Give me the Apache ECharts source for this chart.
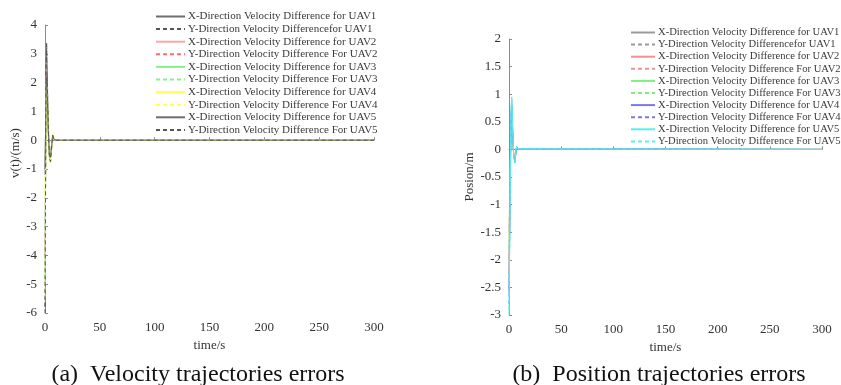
<!DOCTYPE html>
<html>
<head>
<meta charset="utf-8">
<script src="https://cdn.jsdelivr.net/npm/echarts@6/dist/echarts.min.js"></script>
<style>
  html, body { margin: 0; padding: 0; background: #fff; }
  #chart { width: 841px; height: 385px; }
</style>
</head>
<body>
<div id="chart"></div>
<script>
// time axis samples (s)
var velTime = [0, 1, 1.5, 2, 3, 4, 5, 6, 7, 8, 10, 300]
var posTime = [0, 1, 2, 2.6, 3.5, 4.5, 5.8, 6.5, 7.3, 8.5, 10, 300]

// velocity errors (m/s)
var vx1 = [-1.2, 1.6, 2.1, 1.5, 0.3, -0.5, -0.6, -0.2, 0.12, 0.04, 0, 0]
var vy1 = [-6.0, 2.6, 3.4, 2.4, 0.6, -0.6, -0.8, -0.3, 0.18, 0.05, 0, 0]
var vx2 = [-0.8, 1.2, 1.6, 1.1, 0.2, -0.4, -0.5, -0.15, 0.1, 0.03, 0, 0]
var vy2 = [-4.0, 1.8, 2.4, 1.7, 0.4, -0.5, -0.6, -0.2, 0.14, 0.04, 0, 0]
var vx3 = [-5.0, 1.4, 2.0, 1.4, 0.3, -0.45, -0.55, -0.18, 0.12, 0.03, 0, 0]
var vy3 = [-3.0, 1.5, 2.2, 1.6, 0.35, -0.5, -0.65, -0.22, 0.15, 0.04, 0, 0]
var vx4 = [-2.0, 1.3, 1.9, 1.4, 0.3, -0.5, -0.7, -0.25, 0.16, 0.04, 0, 0]
var vy4 = [-5.5, 2.1, 2.0, 1.8, 0.5, -0.6, -0.8, -0.3, 0.2, 0.05, 0, 0]
var vx5 = [-1.0, 1.7, 2.2, 1.6, 0.35, -0.5, -0.6, -0.2, 0.15, 0.04, 0, 0]
var vy5 = [-5.8, 2.5, 3.2, 2.2, 0.5, -0.55, -0.75, -0.28, 0.18, 0.05, 0, 0]

// position errors (m)
var px1 = [-2.0, -0.6, 0.5, 0.7, 0.3, -0.1, -0.2, -0.05, 0.04, 0.01, 0, 0]
var py1 = [-2.5, -0.8, 0.6, 0.8, 0.35, -0.12, -0.22, -0.06, 0.05, 0.01, 0, 0]
var px2 = [-1.5, -0.4, 0.4, 0.6, 0.25, -0.08, -0.18, -0.04, 0.04, 0.01, 0, 0]
var py2 = [-2.2, -0.7, 0.5, 0.75, 0.3, -0.1, -0.2, -0.05, 0.05, 0.01, 0, 0]
var px3 = [-1.8, -0.5, 0.45, 0.65, 0.28, -0.1, -0.19, -0.05, 0.04, 0.01, 0, 0]
var py3 = [-2.4, -0.7, 0.55, 0.8, 0.32, -0.12, -0.21, -0.06, 0.05, 0.01, 0, 0]
var px4 = [-2.6, -0.9, 0.6, 0.85, 0.35, -0.12, -0.23, -0.06, 0.05, 0.01, 0, 0]
var py4 = [-2.8, -1.0, 0.7, 0.9, 0.38, -0.13, -0.24, -0.06, 0.05, 0.01, 0, 0]
var px5 = [-3.0, -1.1, 0.75, 0.95, 0.4, -0.14, -0.25, -0.05, 0.06, 0.01, 0, 0]
var py5 = [-2.9, -1.0, 0.7, 0.92, 0.38, -0.13, -0.24, -0.05, 0.05, 0.01, 0, 0]

var velNames = [
  'X-Direction Velocity Difference for UAV1',
  'Y-Direction Velocity Differencefor UAV1',
  'X-Direction Velocity Difference for UAV2',
  'Y-Direction Velocity Difference For UAV2',
  'X-Direction Velocity Difference for UAV3',
  'Y-Direction Velocity Difference For UAV3',
  'X-Direction Velocity Difference for UAV4',
  'Y-Direction Velocity Difference For UAV4',
  'X-Direction Velocity Difference for UAV5',
  'Y-Direction Velocity Difference For UAV5'
]
var velTicks = [-6, -5, -4, -3, -2, -1, 0, 1, 2, 3, 4]
var posTicks = [-3, -2.5, -2, -1.5, -1, -0.5, 0, 0.5, 1, 1.5, 2]

var velColors = ['#6e6e6e', '#555555', '#f7a8a8', '#ff6a6a', '#88f088', '#88f088', '#ffff55', '#ffff55', '#6e6e6e', '#555555']
var posColors = ['#9a9a9a', '#9a9a9a', '#f49090', '#f49090', '#80ee80', '#80ee80', '#7878f0', '#7878f0', '#55f0f0', '#55f0f0']

var velData = [vx1, vy1, vx2, vy2, vx3, vy3, vx4, vy4, vx5, vy5]
var posData = [px1, py1, px2, py2, px3, py3, px4, py4, px5, py5]

var serif = 'Liberation Serif'

function pairs (ts, vs) {
  return ts.map(function (t, i) { return [t, vs[i]] })
}

function axisBase (extra) {
  var a = {
    axisLine: { lineStyle: { color: '#8c8c8c', width: 1 } },
    axisTick: { inside: true, length: 3, lineStyle: { color: '#8c8c8c' } },
    axisLabel: { color: '#333', fontFamily: serif, fontSize: 13 },
    splitLine: { show: false }
  }
  for (var k in extra) a[k] = extra[k]
  return a
}

var series = []
velNames.forEach(function (n, i) {
  series.push({
    name: n, type: 'line', xAxisIndex: 0, yAxisIndex: 0,
    symbol: 'none', animation: false,
    lineStyle: { color: velColors[i], width: 1, type: i % 2 ? [4, 3] : 'solid' },
    itemStyle: { color: velColors[i] },
    data: pairs(velTime, velData[i])
  })
})
velNames.forEach(function (n, i) {
  series.push({
    name: n + ' ', type: 'line', xAxisIndex: 1, yAxisIndex: 1,
    symbol: 'none', animation: false,
    lineStyle: { color: posColors[i], width: 1, type: i % 2 ? [4, 3] : 'solid' },
    itemStyle: { color: posColors[i] },
    data: pairs(posTime, posData[i])
  })
})

var chart = echarts.init(document.getElementById('chart'))
chart.setOption({
  backgroundColor: '#fff',
  animation: false,
  title: [
    { text: '(a)  Velocity trajectories errors', left: 193, top: 358, textAlign: 'center',
      textStyle: { fontFamily: serif, fontSize: 24, fontWeight: 'normal', color: '#111' } },
    { text: '(b)  Position trajectories errors', left: 654, top: 358, textAlign: 'center',
      textStyle: { fontFamily: serif, fontSize: 24, fontWeight: 'normal', color: '#111' } }
  ],
  legend: [
    {
      orient: 'vertical', left: 155, top: 11, padding: 0,
      itemWidth: 29, itemHeight: 8, itemGap: 1.6,
      itemStyle: { opacity: 0 },
      textStyle: { fontFamily: serif, fontSize: 11, lineHeight: 10, color: '#3a3a3a', padding: [0, 0, 0, -2] },
      data: velNames
    },
    {
      orient: 'vertical', left: 630, top: 27, padding: 0,
      itemWidth: 24, itemHeight: 8, itemGap: 1.1,
      itemStyle: { opacity: 0 },
      textStyle: { fontFamily: serif, fontSize: 10.6, lineHeight: 10, color: '#3a3a3a', padding: [0, 0, 0, -2] },
      data: velNames.map(function (n) { return n + ' ' })
    }
  ],
  grid: [
    { left: 45, right: 467, top: 25, bottom: 72 },
    { left: 509, right: 19, top: 39, bottom: 70 }
  ],
  xAxis: [
    axisBase({ type: 'value', gridIndex: 0, min: 0, max: 300, interval: 50,
      name: 'time/s', nameLocation: 'middle', nameGap: 26,
      nameTextStyle: { fontFamily: serif, fontSize: 13, color: '#333' } }),
    axisBase({ type: 'value', gridIndex: 1, min: 0, max: 300, interval: 50,
      name: 'time/s', nameLocation: 'middle', nameGap: 24,
      nameTextStyle: { fontFamily: serif, fontSize: 13, color: '#333' } })
  ],
  yAxis: [
    axisBase({ type: 'value', gridIndex: 0, min: velTicks[0], max: velTicks[velTicks.length - 1], interval: 1,
      name: 'v(t)/(m/s)', nameLocation: 'middle', nameGap: 17,
      nameTextStyle: { fontFamily: serif, fontSize: 13, color: '#333', padding: [0, 0, 0, 32] } }),
    axisBase({ type: 'value', gridIndex: 1, min: posTicks[0], max: posTicks[posTicks.length - 1], interval: 0.5,
      name: 'Posion/m', nameLocation: 'middle', nameGap: 25,
      nameTextStyle: { fontFamily: serif, fontSize: 13, color: '#333' } })
  ],
  series: series
})
</script>
</body>
</html>
